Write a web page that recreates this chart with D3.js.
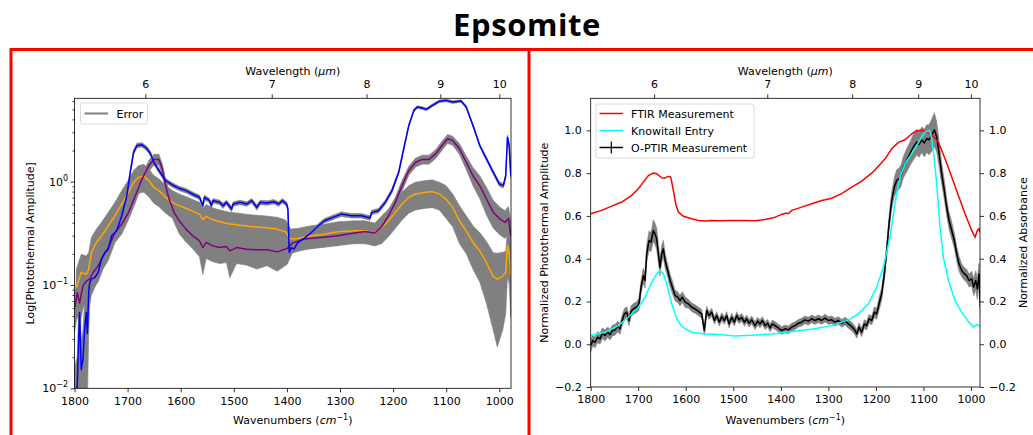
<!DOCTYPE html>
<html>
<head>
<meta charset="utf-8">
<script src="https://cdn.jsdelivr.net/npm/d3@7"></script>
<style>
  body { margin: 0; background: #fff; }
  svg { display: block; }
</style>
</head>
<body>
<svg id="chart" width="1033" height="435"></svg>
<script>
// ---- data ----
// left panel: [wavenumber, photothermal amplitude, relative error]
const blueData = [[1800,0.0085,0.9],[1794.9,0.0105,0.9],[1790.5,0.054,0.9],[1787.3,0.0152,0.9],[1784.1,0.019,0.9],[1780.9,0.037,0.9],[1777.7,0.054,0.8],[1775.8,0.034,0.8],[1773.3,0.084,0.6],[1771.4,0.105,0.4],[1768.2,0.114,0.3],[1761.8,0.118,0.2],[1755.5,0.132,0.15],[1749.1,0.178,0.1],[1742.8,0.206,0.08],[1736.4,0.222,0.08],[1730,0.299,0.08],[1720.5,0.334,0.06],[1711,0.468,0.06],[1701.4,0.731,0.06],[1695.1,1.23,0.05],[1688.7,1.93,0.05],[1682.4,2.24,0.05],[1672.8,2.27,0.05],[1663.3,2.08,0.05],[1656.9,1.86,0.05],[1650.6,1.54,0.05],[1641,1.28,0.05],[1628.3,1.02,0.05],[1615.6,0.928,0.05],[1602.9,0.861,0.05],[1590.1,0.818,0.05],[1574.2,0.742,0.05],[1564.7,0.705,0.05],[1558.3,0.585,0.06],[1555.2,0.705,0.05],[1545.6,0.654,0.05],[1542.4,0.585,0.06],[1539.3,0.654,0.05],[1526.6,0.63,0.05],[1520.2,0.585,0.06],[1513.8,0.63,0.05],[1504.3,0.543,0.06],[1501.1,0.607,0.05],[1488.4,0.63,0.05],[1475.7,0.607,0.05],[1466.1,0.654,0.05],[1456.6,0.563,0.06],[1450.2,0.63,0.05],[1437.5,0.621,0.05],[1424.8,0.639,0.05],[1415.3,0.607,0.05],[1408.9,0.654,0.05],[1400.6,0.607,0.05],[1398.1,0.543,0.05],[1395.6,0.206,0.05],[1391.7,0.23,0.05],[1386.6,0.222,0.05],[1380.3,0.254,0.05],[1367.6,0.282,0.05],[1354.9,0.318,0.05],[1342.2,0.368,0.05],[1329.4,0.418,0.05],[1313.5,0.451,0.05],[1297.6,0.485,0.05],[1278.5,0.468,0.05],[1259.5,0.468,0.05],[1243.6,0.444,0.05],[1240.4,0.504,0.05],[1227.7,0.523,0.05],[1214.9,0.63,0.05],[1202.2,0.818,0.05],[1189.5,1.23,0.04],[1180,2.08,0.04],[1170.4,3.5,0.03],[1160.9,4.89,0.03],[1154.5,5.27,0.03],[1145,5.15,0.03],[1137.4,5.0,0.03],[1126,5.47,0.03],[1113.2,5.98,0.03],[1100.5,6.11,0.03],[1087.8,5.89,0.03],[1071.9,6.03,0.03],[1062.3,5.27,0.03],[1049.6,3.5,0.03],[1036.9,2.24,0.03],[1024.2,1.66,0.04],[1011.4,1.23,0.04],[1000,0.949,0.05],[992.4,0.914,0.05],[987.9,1.14,0.05],[984.7,2.69,0.05],[981.5,2.24,0.05],[978.4,1.14,0.05]];

const orangeData = [[1796.8,0.094,0.5],[1787.3,0.132,0.5],[1777.7,0.127,0.5],[1773.3,0.142,0.45],[1768.2,0.206,0.4],[1758.7,0.258,0.35],[1749.1,0.299,0.35],[1736.4,0.374,0.35],[1723.7,0.468,0.35],[1711,0.607,0.35],[1698.3,0.788,0.32],[1688.7,0.985,0.3],[1679.2,1.1,0.3],[1669.6,1.13,0.3],[1660.1,1.02,0.3],[1650.6,0.881,0.3],[1641,0.818,0.3],[1628.3,0.705,0.3],[1615.6,0.63,0.3],[1602.9,0.585,0.3],[1583.8,0.535,0.3],[1564.7,0.485,0.3],[1558.3,0.428,0.3],[1552,0.461,0.3],[1542.4,0.434,0.3],[1532.9,0.418,0.3],[1520.2,0.403,0.3],[1507.5,0.388,0.3],[1494.8,0.383,0.3],[1469.3,0.368,0.3],[1443.9,0.36,0.3],[1418.4,0.347,0.3],[1402.5,0.327,0.3],[1393,0.278,0.25],[1380.3,0.282,0.25],[1354.9,0.299,0.25],[1329.4,0.31,0.25],[1304,0.327,0.25],[1272.2,0.334,0.25],[1253.1,0.334,0.25],[1234,0.318,0.25],[1221.3,0.36,0.3],[1208.6,0.418,0.3],[1195.9,0.504,0.3],[1183.2,0.607,0.3],[1170.4,0.705,0.3],[1157.7,0.759,0.3],[1138.6,0.788,0.3],[1126,0.8,0.3],[1113.2,0.759,0.3],[1100.5,0.679,0.35],[1087.8,0.563,0.35],[1075,0.418,0.4],[1062.3,0.334,0.4],[1049.6,0.258,0.45],[1036.9,0.214,0.5],[1024.2,0.165,0.6],[1011.4,0.1205,0.7],[1003.8,0.114,0.78],[993.6,0.122,0.7],[987.9,0.132,0.6],[984.7,0.239,0.5],[981.5,0.206,0.5],[978.4,0.122,0.6]];

const purpleData = [[1800,0.058,0.4],[1794.9,0.084,0.4],[1790.5,0.067,0.4],[1784.1,0.098,0.4],[1777.7,0.109,0.35],[1771.4,0.114,0.35],[1765,0.132,0.3],[1755.5,0.153,0.3],[1745.9,0.191,0.25],[1736.4,0.23,0.25],[1723.7,0.322,0.2],[1711,0.388,0.2],[1698.3,0.504,0.15],[1685.5,0.731,0.15],[1672.8,1.06,0.12],[1660.1,1.43,0.12],[1650.6,1.64,0.12],[1641,1.64,0.12],[1634.7,1.33,0.12],[1628.3,0.914,0.15],[1621.9,0.679,0.2],[1612.4,0.504,0.2],[1602.9,0.418,0.25],[1590.1,0.347,0.25],[1577.4,0.299,0.25],[1564.7,0.268,0.3],[1558.3,0.23,0.45],[1552,0.258,0.3],[1539.3,0.239,0.3],[1526.6,0.23,0.3],[1513.8,0.235,0.3],[1507.5,0.214,0.45],[1494.8,0.23,0.3],[1475.7,0.222,0.3],[1456.6,0.219,0.35],[1437.5,0.219,0.3],[1418.4,0.209,0.35],[1399.4,0.226,0.3],[1389.8,0.254,0.2],[1367.6,0.278,0.2],[1335.8,0.288,0.2],[1304,0.299,0.2],[1272.2,0.318,0.2],[1253.1,0.329,0.2],[1234,0.318,0.2],[1221.3,0.368,0.15],[1208.6,0.468,0.15],[1195.9,0.63,0.12],[1183.2,0.914,0.12],[1170.4,1.28,0.1],[1157.7,1.54,0.1],[1145,1.64,0.1],[1132.3,1.64,0.1],[1119.6,1.86,0.1],[1106.8,2.27,0.1],[1097.3,2.6,0.1],[1087.8,2.5,0.1],[1075,2.08,0.12],[1062.3,1.54,0.15],[1049.6,1.14,0.2],[1036.9,0.914,0.25],[1024.2,0.679,0.3],[1011.4,0.504,0.3],[998.7,0.434,0.3],[989.2,0.403,0.3],[982.8,0.441,0.3],[978.4,0.299,0.4]];

// right panel: [wavenumber, normalized value] and O-PTIR [wavenumber, value, error]
const ftirData = [[1800,0.61],[1776.9,0.626],[1755.8,0.646],[1734.8,0.665],[1713.7,0.696],[1699.7,0.727],[1689.2,0.758],[1678.7,0.789],[1668.2,0.8],[1661.2,0.797],[1650.6,0.778],[1643.6,0.777],[1636.6,0.785],[1631.7,0.782],[1626.1,0.719],[1621.2,0.657],[1615.6,0.618],[1605,0.598],[1587.5,0.587],[1573.5,0.579],[1559.5,0.576],[1545.4,0.579],[1531.4,0.577],[1503.4,0.579],[1475.3,0.579],[1454.3,0.577],[1433.2,0.583],[1415.7,0.591],[1398.2,0.607],[1389.1,0.613],[1384.2,0.61],[1377.1,0.626],[1356.1,0.641],[1335.1,0.657],[1314,0.672],[1293,0.683],[1271.9,0.704],[1250.9,0.735],[1229.9,0.763],[1208.8,0.8],[1194.8,0.832],[1180.8,0.867],[1166.8,0.914],[1152.8,0.944],[1138.7,0.956],[1124.7,0.984],[1114.2,0.998],[1103.6,1.0],[1093.1,0.992],[1082.6,0.981],[1068.6,0.945],[1054.6,0.867],[1040.5,0.782],[1026.5,0.696],[1012.5,0.61],[998.5,0.532],[991.4,0.501],[986.5,0.532],[983,0.54],[980.9,0.524]];

const knowitallData = [[1800,0.041],[1769.8,0.056],[1741.8,0.087],[1720.8,0.126],[1699.7,0.173],[1685.7,0.22],[1671.7,0.29],[1661.2,0.329],[1654.1,0.345],[1647.1,0.329],[1640.1,0.282],[1629.6,0.189],[1619.1,0.119],[1608.6,0.083],[1587.5,0.056],[1559.5,0.048],[1531.4,0.045],[1496.4,0.039],[1461.3,0.042],[1419.3,0.048],[1377.1,0.059],[1335.1,0.07],[1293,0.087],[1257.9,0.114],[1236.9,0.142],[1215.8,0.189],[1198.3,0.267],[1184.3,0.36],[1170.3,0.501],[1159.8,0.657],[1149.2,0.782],[1138.7,0.844],[1124.7,0.891],[1114.2,0.93],[1103.6,0.969],[1096.6,0.992],[1088.2,1.0],[1084,0.977],[1079.1,0.906],[1072.1,0.75],[1065.1,0.548],[1058.1,0.407],[1047.5,0.298],[1033.5,0.204],[1019.5,0.15],[1005.5,0.106],[995,0.08],[987.9,0.092],[980.9,0.084]];

const optirData = [[1800,-0.006,0.03],[1795.8,0.017,0.025],[1790.9,0.009,0.025],[1785.3,0.033,0.025],[1780.4,0.025,0.025],[1775.5,0.051,0.025],[1769.8,0.041,0.025],[1764.2,0.056,0.025],[1759.3,0.045,0.025],[1754.4,0.064,0.025],[1748.8,0.067,0.025],[1743.2,0.083,0.025],[1738.3,0.072,0.025],[1734.8,0.103,0.025],[1729.2,0.142,0.025],[1724.3,0.15,0.025],[1719.4,0.111,0.025],[1715.1,0.154,0.025],[1710.2,0.165,0.025],[1703.2,0.173,0.025],[1698.3,0.189,0.03],[1694.1,0.267,0.03],[1689.2,0.321,0.035],[1685.7,0.298,0.035],[1682.2,0.423,0.04],[1677.3,0.485,0.045],[1673.1,0.477,0.045],[1668.2,0.532,0.05],[1664.7,0.516,0.05],[1661.2,0.493,0.05],[1657.6,0.423,0.045],[1654.1,0.36,0.04],[1650.6,0.423,0.04],[1647.1,0.446,0.04],[1643.6,0.392,0.035],[1638,0.345,0.03],[1633.1,0.298,0.03],[1628.2,0.267,0.03],[1622.6,0.228,0.025],[1617,0.22,0.025],[1612.1,0.204,0.025],[1607.2,0.22,0.025],[1601.5,0.197,0.025],[1594.5,0.189,0.02],[1587.5,0.173,0.02],[1580.5,0.165,0.02],[1573.5,0.154,0.02],[1566.5,0.142,0.02],[1560.9,0.064,0.02],[1556,0.158,0.02],[1551.1,0.134,0.018],[1545.4,0.15,0.018],[1539.8,0.111,0.018],[1534.9,0.134,0.018],[1529.3,0.103,0.018],[1524.4,0.129,0.018],[1518.8,0.111,0.018],[1513.9,0.134,0.018],[1509,0.095,0.018],[1503.4,0.126,0.018],[1497.8,0.103,0.018],[1492.8,0.134,0.018],[1487.9,0.114,0.018],[1482.3,0.126,0.018],[1476.7,0.103,0.018],[1471.8,0.119,0.018],[1466.9,0.098,0.018],[1461.3,0.114,0.018],[1454.3,0.087,0.018],[1448.7,0.108,0.018],[1443.8,0.095,0.018],[1438.9,0.111,0.018],[1433.2,0.087,0.018],[1427.6,0.098,0.018],[1422.7,0.076,0.018],[1417.8,0.095,0.018],[1412.2,0.087,0.018],[1405.2,0.076,0.018],[1398.2,0.064,0.018],[1391.2,0.072,0.018],[1384.2,0.067,0.018],[1377.1,0.08,0.018],[1370.1,0.087,0.018],[1363.1,0.098,0.018],[1356.1,0.103,0.018],[1349.1,0.114,0.018],[1342.1,0.108,0.018],[1335.1,0.119,0.018],[1328.1,0.111,0.018],[1321,0.119,0.018],[1314,0.111,0.018],[1307,0.122,0.018],[1300,0.111,0.018],[1293,0.114,0.018],[1286,0.103,0.018],[1279,0.111,0.018],[1271.9,0.098,0.018],[1264.9,0.108,0.018],[1257.9,0.095,0.02],[1250.9,0.083,0.02],[1243.9,0.064,0.02],[1240.4,0.048,0.02],[1235.5,0.08,0.02],[1229.9,0.056,0.02],[1224.3,0.095,0.02],[1219.4,0.087,0.02],[1214.5,0.119,0.02],[1208.8,0.111,0.02],[1203.2,0.15,0.025],[1198.3,0.142,0.025],[1193.4,0.189,0.03],[1187.8,0.236,0.03],[1182.2,0.329,0.03],[1177.3,0.438,0.03],[1172.4,0.563,0.035],[1166.8,0.672,0.04],[1161.2,0.735,0.045],[1156.3,0.766,0.05],[1151.3,0.774,0.05],[1147.1,0.789,0.05],[1142.2,0.828,0.05],[1135.2,0.86,0.055],[1128.2,0.891,0.055],[1121.2,0.922,0.06],[1114.2,0.945,0.06],[1109.2,0.934,0.06],[1103.6,0.956,0.06],[1098,0.941,0.065],[1093.1,0.961,0.065],[1088.2,0.956,0.07],[1082.6,0.977,0.075],[1077,1.003,0.08],[1072.1,0.969,0.07],[1067.1,0.891,0.06],[1061.6,0.797,0.05],[1056,0.719,0.045],[1051.1,0.641,0.04],[1046.2,0.579,0.04],[1040.5,0.532,0.04],[1035,0.485,0.035],[1030,0.423,0.035],[1025.1,0.376,0.035],[1019.5,0.345,0.03],[1013.9,0.329,0.03],[1009,0.321,0.03],[1004.1,0.298,0.03],[998.5,0.306,0.035],[994.3,0.267,0.04],[990.1,0.298,0.045],[986.5,0.259,0.05],[983,0.329,0.05],[980.1,0.173,0.05]];

// tick labels
const wavenumberTicks = [1800, 1700, 1600, 1500, 1400, 1300, 1200, 1100, 1000];
const wavelengthTicks = [6, 7, 8, 9, 10];
const logTicks = [0.01, 0.1, 1];
const logTickExp = ["\u22122", "\u22121", "0"];
const logMinorTicks = [0.02,0.03,0.04,0.05,0.06,0.07,0.08,0.09,0.2,0.3,0.4,0.5,0.6,0.7,0.8,0.9,2,3,4,5,6];
const normTicks = [-0.2, 0, 0.2, 0.4, 0.6, 0.8, 1.0];

// ---- drawing ----
const FONT = "'DejaVu Sans', sans-serif";
const svg = d3.select("#chart");

svg.append("text")
    .attr("x", 527).attr("y", 36)
    .attr("text-anchor", "middle")
    .style("font-family", "'Open Sans', Inter, sans-serif")
    .style("font-weight", 700)
    .style("font-size", "31px")
    .style("letter-spacing", "0.6px")
    .attr("fill", "#000")
    .text("Epsomite");

// red frames round the two panels
svg.append("path")
    .attr("d", "M11,440 V49.5 H1040 M529,49.5 V440")
    .attr("fill", "none")
    .attr("stroke", "#ff0000")
    .attr("stroke-width", 3);

function styleAxis(g) {
    g.select(".domain").remove();
    g.selectAll(".tick line").attr("stroke", "#000").attr("stroke-width", 0.8);
    g.selectAll(".tick text")
        .attr("fill", "#000")
        .style("font-size", "11px")
        .style("font-family", FONT);
}

function axisLabel(g, x, y, rot, parts) {
    var t = g.append("text")
        .attr("transform", "translate(" + x + "," + y + ")" + (rot ? " rotate(" + rot + ")" : ""))
        .attr("text-anchor", "middle")
        .style("font-family", FONT)
        .style("font-size", "11px")
        .attr("fill", "#000");
    parts.forEach(function(p) {
        var s = t.append("tspan").text(p.t);
        if (p.italic) s.style("font-style", "italic");
        if (p.sup) s.style("font-size", "8px").attr("dy", p.dy);
        if (p.dy && !p.sup) s.attr("dy", p.dy);
    });
    return t;
}

function wnAxes(g, x, box) {
    g.append("g")
        .attr("transform", "translate(0," + box.bottom + ")")
        .call(d3.axisBottom(x).tickValues(wavenumberTicks).tickSize(4).tickPadding(4.5).tickFormat(d3.format("d")))
        .call(styleAxis);
    g.append("g")
        .attr("transform", "translate(0," + box.top + ")")
        .call(d3.axisTop(x).tickValues(wavelengthTicks.map(function(l) { return 1e4 / l; }))
            .tickSize(4).tickPadding(6)
            .tickFormat(function(d, i) { return wavelengthTicks[i]; }))
        .call(styleAxis);
    var cx = (box.left + box.right) / 2;
    axisLabel(g, cx, 424, 0, [{t: "Wavenumbers ("}, {t: "cm", italic: true}, {t: "\u22121", sup: true, dy: -4}, {t: ")", dy: 4}]);
    axisLabel(g, cx, 75, 0, [{t: "Wavelength ("}, {t: "\u03bc", italic: true}, {t: "m", italic: true}, {t: ")"}]);
}

function clip(id, box) {
    svg.append("clipPath").attr("id", id)
        .append("rect")
        .attr("x", box.left).attr("y", box.top)
        .attr("width", box.right - box.left).attr("height", box.bottom - box.top);
}

// ---------- left panel ----------
const L = {left: 74.5, right: 511, top: 98.3, bottom: 388.3};
const xL = d3.scaleLinear().domain([1800, 978]).range([L.left, L.right]);
const yL = d3.scaleLog().domain([0.01, 6.4]).range([L.bottom, L.top]);
clip("clipL", L);

const gL = svg.append("g");
const plotL = gL.append("g").attr("clip-path", "url(#clipL)");

const seriesL = [
    {data: orangeData, color: "orange"},
    {data: purpleData, color: "purple"},
    {data: blueData, color: "blue"}
];

const bandL = d3.area()
    .x(function(d) { return xL(d[0]); })
    .y0(function(d) { return yL(Math.max(d[1] * (1 - d[2]), 1e-4)); })
    .y1(function(d) { return yL(d[1] * (1 + d[2])); });
const lineL = d3.line()
    .x(function(d) { return xL(d[0]); })
    .y(function(d) { return yL(d[1]); });

seriesL.forEach(function(s) {
    plotL.append("path").datum(s.data).attr("d", bandL).attr("fill", "grey").attr("stroke", "grey").attr("stroke-width", 0.6);
});
seriesL.forEach(function(s) {
    plotL.append("path").datum(s.data).attr("d", lineL)
        .attr("fill", "none").attr("stroke", s.color).attr("stroke-width", 1.5).attr("stroke-linejoin", "round");
});

wnAxes(gL, xL, L);

gL.append("g")
    .attr("transform", "translate(" + L.left + ",0)")
    .call(d3.axisLeft(yL).tickValues(logTicks).tickSize(4).tickFormat(""))
    .call(styleAxis);
gL.append("g")
    .attr("transform", "translate(" + L.left + ",0)")
    .call(d3.axisLeft(yL).tickValues(logMinorTicks).tickSize(2).tickFormat(""))
    .call(styleAxis);
logTicks.forEach(function(v, i) {
    var t = gL.append("text")
        .attr("x", L.left - 6.5).attr("y", yL(v) + 4)
        .attr("text-anchor", "end")
        .style("font-family", FONT).style("font-size", "11px").attr("fill", "#000");
    t.append("tspan").text("10");
    t.append("tspan").attr("dy", -5).style("font-size", "8px").text(logTickExp[i]);
});

axisLabel(gL, 33.5, (L.top + L.bottom) / 2, -90, [{t: "Log[Photothermal Amplitude]"}]);

gL.append("rect")
    .attr("x", L.left).attr("y", L.top)
    .attr("width", L.right - L.left).attr("height", L.bottom - L.top)
    .attr("fill", "none").attr("stroke", "#000").attr("stroke-width", 0.8);

// legend
const legL = gL.append("g");
legL.append("rect").attr("x", 80.5).attr("y", 103).attr("width", 67).attr("height", 21).attr("rx", 2)
    .attr("fill", "#fff").attr("fill-opacity", 0.8).attr("stroke", "#d0d0d0").attr("stroke-width", 0.8);
legL.append("line").attr("x1", 84.5).attr("x2", 108).attr("y1", 113.5).attr("y2", 113.5)
    .attr("stroke", "grey").attr("stroke-width", 2);
legL.append("text").attr("x", 116.5).attr("y", 117.5)
    .style("font-family", FONT).style("font-size", "11px").attr("fill", "#000").text("Error");

// ---------- right panel ----------
const R = {left: 590.7, right: 980, top: 98.3, bottom: 387};
const xR = d3.scaleLinear().domain([1800, 981]).range([R.left, R.right]);
const yR = d3.scaleLinear().domain([-0.2, 1.15]).range([R.bottom, R.top]);
clip("clipR", R);

const gR = svg.append("g");
const plotR = gR.append("g").attr("clip-path", "url(#clipR)");

const lineR = d3.line()
    .x(function(d) { return xR(d[0]); })
    .y(function(d) { return yR(d[1]); });
const bandR = d3.area()
    .x(function(d) { return xR(d[0]); })
    .y0(function(d) { return yR(d[1] - d[2]); })
    .y1(function(d) { return yR(d[1] + d[2]); });

plotR.append("path").datum(optirData).attr("d", bandR).attr("fill", "grey").attr("stroke", "grey").attr("stroke-width", 0.6);
plotR.append("path").datum(optirData).attr("d", lineR)
    .attr("fill", "none").attr("stroke", "#000").attr("stroke-width", 1.5).attr("stroke-linejoin", "round");
plotR.append("path").datum(ftirData).attr("d", lineR)
    .attr("fill", "none").attr("stroke", "red").attr("stroke-width", 1.5);
plotR.append("path").datum(knowitallData).attr("d", lineR)
    .attr("fill", "none").attr("stroke", "cyan").attr("stroke-width", 1.5);

wnAxes(gR, xR, R);

const fmt = d3.format(".1f");
gR.append("g")
    .attr("transform", "translate(" + R.left + ",0)")
    .call(d3.axisLeft(yR).tickValues(normTicks).tickSize(4).tickPadding(5).tickFormat(fmt))
    .call(styleAxis);
gR.append("g")
    .attr("transform", "translate(" + R.right + ",0)")
    .call(d3.axisRight(yR).tickValues(normTicks).tickSize(4).tickPadding(5).tickFormat(fmt))
    .call(styleAxis);

axisLabel(gR, 547.5, (R.top + R.bottom) / 2, -90, [{t: "Normalized Photothermal Amplitude"}]);
axisLabel(gR, 1027, (R.top + R.bottom) / 2, -90, [{t: "Normalized Absorbance"}]);

gR.append("rect")
    .attr("x", R.left).attr("y", R.top)
    .attr("width", R.right - R.left).attr("height", R.bottom - R.top)
    .attr("fill", "none").attr("stroke", "#000").attr("stroke-width", 0.8);

// legend
const legendR = [
    {name: "FTIR Measurement", color: "red"},
    {name: "Knowitall Entry", color: "cyan"},
    {name: "O-PTIR Measurement", color: "#000", bar: true}
];
const legR = gR.append("g");
legR.append("rect").attr("x", 596).attr("y", 104).attr("width", 158).attr("height", 54).attr("rx", 2)
    .attr("fill", "#fff").attr("fill-opacity", 0.8).attr("stroke", "#d0d0d0").attr("stroke-width", 0.8);
legendR.forEach(function(d, i) {
    var yy = 113.5 + i * 17;
    legR.append("line").attr("x1", 599.5).attr("x2", 623).attr("y1", yy).attr("y2", yy)
        .attr("stroke", d.color).attr("stroke-width", 1.5);
    if (d.bar) {
        legR.append("line").attr("x1", 611.3).attr("x2", 611.3).attr("y1", yy - 6).attr("y2", yy + 6)
            .attr("stroke", d.color).attr("stroke-width", 1.2);
    }
    legR.append("text").attr("x", 631).attr("y", yy + 4)
        .style("font-family", FONT).style("font-size", "11px").attr("fill", "#000").text(d.name);
});
</script>
</body>
</html>
